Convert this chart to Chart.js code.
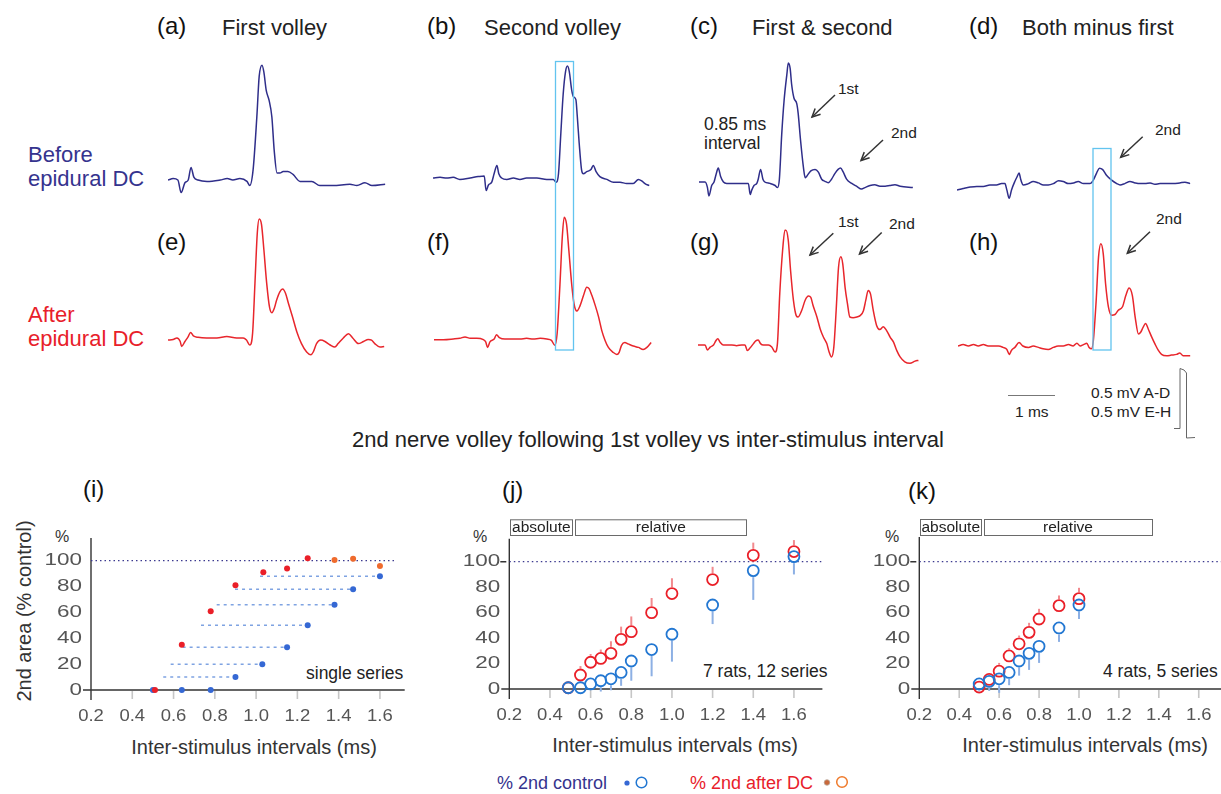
<!DOCTYPE html>
<html>
<head>
<meta charset="utf-8">
<title>2nd nerve volley vs inter-stimulus interval</title>
<script src="https://cdn.jsdelivr.net/npm/chart.js@4.4.1/dist/chart.umd.min.js"></script>
<style>
  body { margin: 0; width: 1221px; height: 794px; overflow: hidden; position: relative; background: #fff;
         font-family: "Liberation Sans", Arial, Helvetica, sans-serif; }
  canvas { position: absolute; }
  .t { position: absolute; line-height: 1; white-space: nowrap; transform: translateY(-50%); color: #222; }
  .lt { font-size: 24px; color: #111; }
  .ttl { font-size: 22px; }
  .ann { font-size: 17.5px; }
  .cal { font-size: 15.5px; }
  .ax { font-size: 20px; color: #333; transform: translate(-50%, -50%); }
  .blue { color: #35338e; }
  .red { color: #e8202a; }
  svg { position: absolute; left: 0; top: 0; }
</style>
</head>
<body>

<!-- panel headings -->
<div class="t lt" style="left:157px;top:26px">(a)</div>
<div class="t ttl" style="left:222px;top:28px">First volley</div>
<div class="t lt" style="left:427px;top:26px">(b)</div>
<div class="t ttl" style="left:484px;top:28px">Second volley</div>
<div class="t lt" style="left:690px;top:26px">(c)</div>
<div class="t ttl" style="left:752px;top:28px">First &amp; second</div>
<div class="t lt" style="left:969px;top:26px">(d)</div>
<div class="t ttl" style="left:1022px;top:28px">Both minus first</div>

<div class="t lt" style="left:157px;top:242px">(e)</div>
<div class="t lt" style="left:427px;top:242px">(f)</div>
<div class="t lt" style="left:690px;top:242px">(g)</div>
<div class="t lt" style="left:969px;top:242px">(h)</div>

<div class="t ttl blue" style="left:28px;top:155px">Before</div>
<div class="t ttl blue" style="left:28px;top:179px">epidural DC</div>
<div class="t ttl red" style="left:28px;top:315px">After</div>
<div class="t ttl red" style="left:28px;top:339px">epidural DC</div>

<!-- trace annotations -->
<div class="t ann" style="left:704px;top:125px">0.85 ms</div>
<div class="t ann" style="left:704px;top:144px">interval</div>
<div class="t cal" style="left:838px;top:89px">1st</div>
<div class="t cal" style="left:891px;top:133px">2nd</div>
<div class="t cal" style="left:1155px;top:130px">2nd</div>
<div class="t cal" style="left:838px;top:222px">1st</div>
<div class="t cal" style="left:889px;top:224px">2nd</div>
<div class="t cal" style="left:1156px;top:219px">2nd</div>

<div class="t cal" style="left:1015px;top:412px">1 ms</div>
<div class="t cal" style="left:1091px;top:393px">0.5 mV A-D</div>
<div class="t cal" style="left:1091px;top:412px">0.5 mV E-H</div>

<div class="t ttl" style="left:352px;top:440px">2nd nerve volley following 1st volley vs inter-stimulus interval</div>

<!-- lower panels -->
<div class="t lt" style="left:83px;top:489px">(i)</div>
<div class="t lt" style="left:502px;top:490px">(j)</div>
<div class="t lt" style="left:908px;top:491px">(k)</div>
<div class="t" style="left:55px;top:537px;font-size:16px;color:#333">%</div>
<div class="t" style="left:473px;top:537px;font-size:16px;color:#333">%</div>
<div class="t" style="left:885px;top:537px;font-size:16px;color:#333">%</div>
<div class="t ann" style="left:306px;top:674px">single series</div>
<div class="t ann" style="left:703px;top:672px">7 rats, 12 series</div>
<div class="t ann" style="left:1103px;top:672px">4 rats, 5 series</div>
<div class="t ax" style="left:254px;top:747px">Inter-stimulus intervals (ms)</div>
<div class="t ax" style="left:675px;top:745px">Inter-stimulus intervals (ms)</div>
<div class="t ax" style="left:1085px;top:745px">Inter-stimulus intervals (ms)</div>
<div class="t ax" style="left:24px;top:611px;transform:translate(-50%,-50%) rotate(-90deg)">2nd area (% control)</div>

<div class="t blue" style="left:497px;top:783px;font-size:18px">% 2nd control</div>
<div class="t red" style="left:690px;top:783px;font-size:18px">% 2nd after DC</div>

<script>
// ============================================================
// SWEEPS: [time (ms), amplitude (mV)] from each sweep start
// ============================================================
const traceA = [[0,0],[0.11,0.01],[0.21,0],[0.28,-0.09],[0.36,-0.02],[0.43,0],[0.49,0.09],[0.55,0.02],[0.64,0],[0.83,-0.01],
  [1.11,0],[1.26,0.01],[1.38,0],[1.53,0.01],[1.68,-0.01],[1.74,-0.04],[1.81,0.07],[1.89,0.45],[1.94,0.74],[2.0,0.82],
  [2.04,0.77],[2.09,0.64],[2.15,0.57],[2.21,0.45],[2.26,0.21],[2.32,0.05],[2.38,0.05],[2.45,0.06],[2.55,0.06],[2.66,0.04],
  [2.81,-0.01],[3.06,-0.01],[3.23,-0.04],[3.51,-0.04],[3.87,-0.03],[4.02,-0.04],[4.19,-0.02],[4.34,-0.04],[4.62,-0.03]];

const traceB = [[0,0],[0.15,0.005],[0.29,0],[0.43,0.005],[0.57,-0.01],[0.79,0],[0.96,0.01],[1.09,0.015],[1.13,-0.09],
  [1.18,-0.05],[1.25,-0.03],[1.30,0.03],[1.36,0.09],[1.40,0.03],[1.46,0],[1.57,-0.01],[1.71,0],[1.85,-0.01],[1.99,0],
  [2.21,0],[2.42,-0.01],[2.56,-0.01],[2.62,-0.03],[2.67,0.03],[2.72,0.32],[2.77,0.60],[2.82,0.76],[2.86,0.80],[2.90,0.76],
  [2.95,0.63],[2.99,0.58],[3.04,0.56],[3.07,0.44],[3.11,0.25],[3.16,0.06],[3.20,0.03],[3.27,0.045],[3.36,0.06],[3.41,0.09],
  [3.47,0.045],[3.55,0.01],[3.70,-0.01],[3.84,-0.03],[3.98,-0.03],[4.12,-0.04],[4.26,-0.04],[4.37,-0.01],[4.44,-0.02],
  [4.51,-0.04],[4.60,-0.055]];

const traceC = [[0,0],[0.13,0],[0.18,-0.04],[0.21,-0.10],[0.27,-0.025],[0.32,0],[0.36,0.05],[0.41,0.10],[0.46,0.04],
  [0.52,0],[0.59,-0.01],[0.73,-0.01],[0.87,-0.01],[1.01,-0.01],[1.05,-0.01],[1.09,-0.09],[1.12,-0.06],[1.17,-0.025],
  [1.23,-0.01],[1.26,0.02],[1.31,0.09],[1.36,0.02],[1.40,0],[1.51,-0.01],[1.62,-0.025],[1.67,-0.04],[1.71,0.02],
  [1.76,0.34],[1.81,0.58],[1.87,0.77],[1.90,0.85],[1.94,0.81],[1.97,0.70],[2.02,0.60],[2.08,0.56],[2.11,0.49],[2.16,0.30],
  [2.22,0.11],[2.26,0.03],[2.29,0.04],[2.38,0.08],[2.47,0.09],[2.54,0.07],[2.61,0.02],[2.68,0.005],[2.75,-0.005],
  [2.82,0.02],[2.89,0.06],[2.96,0.09],[3.01,0.10],[3.07,0.07],[3.14,0.02],[3.25,-0.01],[3.35,-0.03],[3.46,-0.05],
  [3.53,-0.04],[3.64,-0.025],[3.74,-0.02],[3.85,-0.03],[3.96,-0.03],[4.06,-0.025],[4.17,-0.02],[4.28,-0.03],[4.55,-0.04]];

const traceD = [[0,-0.035],[0.13,-0.025],[0.28,-0.015],[0.42,-0.01],[0.56,-0.01],[0.70,0],[0.84,0],[0.95,0.01],[1.02,0.01],
  [1.06,-0.035],[1.11,-0.095],[1.16,-0.035],[1.23,0.025],[1.28,0.06],[1.32,0.085],[1.36,0.035],[1.41,0],[1.52,0.01],
  [1.62,0.025],[1.73,0.015],[1.84,0],[1.94,0],[2.05,0.01],[2.16,0.03],[2.26,0.025],[2.37,0.01],[2.48,0.015],[2.58,0.025],
  [2.69,0.01],[2.83,0.01],[2.90,0.035],[2.97,0.085],[3.03,0.12],[3.10,0.11],[3.18,0.07],[3.29,0.035],[3.40,0.01],[3.47,0],
  [3.57,0.01],[3.68,0.025],[3.79,0.015],[3.89,0.01],[4.0,0.01],[4.11,0.015],[4.21,0.005],[4.32,0.01],[4.46,0.01],
  [4.60,0.01],[4.74,0.015],[4.85,0.02],[4.96,0.01]];

const traceE = [[0,-0.015],[0.11,-0.01],[0.19,0],[0.26,-0.025],[0.29,-0.06],[0.36,-0.025],[0.43,0.01],[0.48,0.04],
  [0.54,0.015],[0.64,0.005],[0.82,0],[1.04,0],[1.25,0.01],[1.46,0],[1.60,0],[1.67,-0.015],[1.74,-0.05],[1.80,0.035],
  [1.85,0.39],[1.90,0.75],[1.94,0.85],[1.99,0.81],[2.04,0.63],[2.10,0.39],[2.16,0.22],[2.21,0.18],[2.26,0.21],[2.31,0.27],
  [2.38,0.33],[2.44,0.35],[2.50,0.32],[2.56,0.25],[2.65,0.15],[2.74,0.045],[2.84,-0.04],[2.95,-0.10],[3.04,-0.12],
  [3.09,-0.10],[3.16,-0.04],[3.25,-0.015],[3.34,-0.025],[3.45,-0.05],[3.55,-0.065],[3.62,-0.04],[3.73,0],[3.84,0.03],
  [3.93,0],[4.05,-0.04],[4.16,-0.025],[4.26,-0.01],[4.33,-0.015],[4.40,-0.04],[4.51,-0.065],[4.60,-0.06]];

const traceF = [[0,-0.005],[0.20,-0.005],[0.41,0],[0.55,0.005],[0.66,0.015],[0.77,0.005],[0.91,0.005],[1.05,-0.005],
  [1.10,-0.02],[1.14,-0.06],[1.19,-0.02],[1.28,0],[1.33,0.03],[1.39,0.01],[1.51,0],[1.69,0],[1.83,0],[1.97,0.005],
  [2.11,0],[2.26,0.005],[2.40,0],[2.50,-0.01],[2.57,-0.045],[2.62,0.04],[2.68,0.39],[2.73,0.73],[2.77,0.87],[2.82,0.82],
  [2.87,0.63],[2.93,0.39],[2.98,0.25],[3.04,0.20],[3.11,0.24],[3.18,0.31],[3.25,0.37],[3.30,0.36],[3.36,0.31],[3.43,0.24],
  [3.50,0.16],[3.57,0.06],[3.64,-0.01],[3.71,-0.06],[3.81,-0.095],[3.89,-0.11],[3.94,-0.095],[3.99,-0.045],[4.06,-0.025],
  [4.13,-0.035],[4.24,-0.05],[4.35,-0.06],[4.45,-0.075],[4.53,-0.06],[4.62,-0.025]];

const traceG = [[0,0],[0.15,0],[0.20,-0.035],[0.26,-0.015],[0.33,0],[0.38,0.03],[0.42,0.045],[0.47,0.02],[0.54,0],
  [0.64,0],[0.72,0],[0.82,-0.005],[0.93,0],[1.0,0],[1.05,-0.04],[1.11,-0.02],[1.18,0.01],[1.23,0.03],[1.28,0.035],
  [1.33,0.01],[1.39,0],[1.50,0],[1.57,-0.015],[1.64,-0.05],[1.69,0.01],[1.74,0.37],[1.80,0.675],[1.85,0.82],[1.87,0.82],
  [1.92,0.75],[1.97,0.53],[2.03,0.32],[2.09,0.21],[2.13,0.20],[2.21,0.25],[2.28,0.32],[2.35,0.35],[2.40,0.34],[2.45,0.28],
  [2.53,0.20],[2.60,0.115],[2.67,0.055],[2.74,0.01],[2.79,-0.05],[2.84,-0.085],[2.89,-0.015],[2.94,0.25],[2.99,0.555],
  [3.04,0.63],[3.08,0.58],[3.13,0.41],[3.18,0.295],[3.23,0.20],[3.30,0.195],[3.38,0.20],[3.45,0.21],[3.52,0.245],
  [3.57,0.32],[3.62,0.39],[3.67,0.365],[3.73,0.245],[3.80,0.14],[3.87,0.11],[3.94,0.13],[4.01,0.105],[4.09,0.055],
  [4.16,0.02],[4.23,-0.04],[4.30,-0.085],[4.40,-0.12],[4.51,-0.13],[4.62,-0.115],[4.69,-0.11]];

const traceH = [[0,0],[0.11,0.01],[0.22,0],[0.33,0.01],[0.43,0],[0.54,0.01],[0.64,0],[0.75,0],[0.86,0],[0.96,-0.01],
  [1.04,-0.025],[1.09,-0.06],[1.14,-0.03],[1.21,-0.01],[1.30,0.025],[1.38,0],[1.50,-0.01],[1.60,0],[1.71,-0.01],
  [1.81,-0.02],[1.92,-0.025],[2.03,-0.01],[2.13,0],[2.24,0],[2.35,0.01],[2.45,0],[2.53,0.02],[2.60,0],[2.67,0.01],
  [2.74,0.02],[2.79,-0.01],[2.84,-0.02],[2.88,0.04],[2.94,0.325],[2.99,0.635],[3.04,0.73],[3.09,0.66],[3.14,0.445],
  [3.20,0.28],[3.27,0.22],[3.34,0.225],[3.41,0.255],[3.50,0.28],[3.57,0.36],[3.64,0.415],[3.71,0.36],[3.77,0.205],
  [3.84,0.085],[3.89,0.10],[3.94,0.135],[3.99,0.16],[4.05,0.12],[4.12,0.065],[4.19,0.015],[4.26,-0.03],[4.33,-0.06],
  [4.44,-0.07],[4.54,-0.065],[4.65,-0.06],[4.72,-0.05],[4.79,-0.07],[4.94,-0.07]];

// ============================================================
// 2ND VOLLEY AREA (% of control) vs INTER-STIMULUS INTERVAL
// ============================================================
const xTicks = [0.2, 0.4, 0.6, 0.8, 1.0, 1.2, 1.4, 1.6];
const yTicks = [0, 20, 40, 60, 80, 100];
const controlLevel = 100;
const phaseNames = ['absolute', 'relative'];
const phaseStart = [0.205, 0.525];
const phaseEnd = [0.51, 1.365];

// (i) single series
const iCtrlIsi = [0.50, 0.64, 0.78, 0.90, 1.03, 1.15, 1.25, 1.38, 1.47, 1.60];
const iCtrl = [0, 0, 0, 10, 20, 33, 50, 66, 78, 88];
const iShiftFrom = [null, null, null, 0.55, 0.586, 0.644, 0.733, 0.809, 0.898, 1.019];
const iDCIsi = [0.51, 0.64, 0.78, 0.90, 1.035, 1.15, 1.25];
const iDC = [0, 35, 61, 81, 91, 94, 102];
const iDCLateIsi = [1.38, 1.47, 1.60];
const iDCLate = [100.5, 101.5, 96];

// (j) 7 rats, 12 series: means, lower SD end (control), upper SD end (after DC)
const jIsi = [0.49, 0.55, 0.6, 0.65, 0.7, 0.75, 0.8, 0.9, 1.0, 1.2, 1.4, 1.6];
const jCtrl = [1, 1, 4, 6.5, 8, 13, 22, 31, 43, 66, 93, 104];
const jCtrlLow = [null, null, -1, -2, -1, 2.5, 6.5, 10, 21.5, 51, 70, 90];
const jDC = [1, 11, 21, 24, 28, 39, 45, 60, 75, 86, 105, 108];
const jDCHigh = [null, 18, 27.5, 31, 37.5, 49, 57, 71.5, 87, 96, 115, 117];

// (k) 4 rats, 5 series
const kIsi = [0.5, 0.55, 0.6, 0.65, 0.7, 0.75, 0.8, 0.9, 1.0];
const kCtrl = [4, 6, 8, 13, 22, 28, 33.5, 48, 66];
const kCtrlLow = [-2, -1.5, -3, 3, 10.5, 15, 20.5, 37, 55];
const kDC = [1.5, 7.5, 14, 26, 35.5, 44.5, 55, 65.5, 71];
const kDCHigh = [null, 12, 20.5, 32, 42, 52, 63, 73.5, 79.5];

const BLUE_TRACE = '#2f2e8a';
const RED_TRACE = '#e8262c';
const BLUE_PT = '#3568d4';
const BLUE_RING = '#2277d2';
const RED_PT = '#ea1f28';
const ORANGE_PT = '#ef6b2d';
const FONT = '"Liberation Sans", Arial, sans-serif';

const toXY = (xs, ys) => xs.map((x, i) => ({ x, y: ys[i] }));

// ============================================================
// SWEEP PANELS (1 ms = 47 px, 1 mV = 140 px)
// ============================================================
function drawTrace(pts, left, top, color) {
  const cv = document.createElement('canvas');
  cv.width = 235; cv.height = 168;
  cv.style.left = left + 'px';
  cv.style.top = top + 'px';
  document.body.appendChild(cv);
  new Chart(cv, {
    type: 'line',
    data: {
      datasets: [{
        data: pts.map(p => ({ x: p[0], y: p[1] })),
        borderColor: color,
        borderWidth: 1.5,
        pointRadius: 0,
        cubicInterpolationMode: 'monotone',
        clip: false,
      }],
    },
    options: {
      responsive: false,
      animation: false,
      events: [],
      plugins: { legend: { display: false }, tooltip: { enabled: false } },
      scales: {
        x: { type: 'linear', min: 0, max: 5, display: false },
        y: { min: -0.25, max: 0.95, display: false },
      },
    },
  });
}

drawTrace(traceA, 168, 47, BLUE_TRACE);
drawTrace(traceB, 433, 45, BLUE_TRACE);
drawTrace(traceC, 699, 48.5, BLUE_TRACE);
drawTrace(traceD, 957, 52, BLUE_TRACE);
drawTrace(traceE, 168, 205, RED_TRACE);
drawTrace(traceF, 434, 205.5, RED_TRACE);
drawTrace(traceG, 698, 211.5, RED_TRACE);
drawTrace(traceH, 958, 212.5, RED_TRACE);

// ============================================================
// ISI PANELS
// ============================================================
function stretchText(ctx, txt, x, y, sx, align) {
  ctx.save();
  ctx.translate(x, y);
  ctx.scale(sx, 1);
  ctx.textAlign = align;
  ctx.textBaseline = 'middle';
  ctx.fillText(txt, 0, 0);
  ctx.restore();
}

const isiAxes = {
  id: 'isiAxes',
  beforeDatasetsDraw(chart, args, o) {
    const { ctx, chartArea: a, scales: { x, y } } = chart;
    const x0 = x.getPixelForValue(0.2), y0 = y.getPixelForValue(0);
    ctx.save();
    ctx.strokeStyle = '#c6c6c6';
    ctx.lineWidth = 1.6;
    xTicks.slice(1).forEach(v => {
      const px = x.getPixelForValue(v);
      ctx.beginPath(); ctx.moveTo(px, y0 + 1); ctx.lineTo(px, y0 + 9); ctx.stroke();
    });
    ctx.strokeStyle = '#333';
    ctx.lineWidth = 1.4;
    ctx.beginPath();
    ctx.moveTo(x0, a.top); ctx.lineTo(x0, y0 + 10);
    ctx.moveTo(x0 - 8, y0); ctx.lineTo(a.right, y0);
    if (o.tick100) {
      const p = y.getPixelForValue(controlLevel);
      ctx.moveTo(x0 - 9, p); ctx.lineTo(x0 - 3, p);
    }
    ctx.stroke();

    // one-sided SD bars, starting at the ring edge
    chart.data.datasets.forEach((ds, di) => {
      if (!ds.errEnds || !chart.isDatasetVisible(di)) return;
      ctx.strokeStyle = ds.errColor;
      ctx.lineWidth = 2;
      ds.errEnds.forEach((end, i) => {
        if (end == null) return;
        const px = x.getPixelForValue(ds.data[i].x);
        const py = y.getPixelForValue(ds.data[i].y);
        const pe = y.getPixelForValue(end);
        const r = ds.pointRadius + 1;
        if (Math.abs(pe - py) <= r) return;
        const dir = Math.sign(pe - py);
        ctx.beginPath(); ctx.moveTo(px, py + dir * r); ctx.lineTo(px, pe); ctx.stroke();
      });
    });
    ctx.restore();
  },
  afterDraw(chart, args, o) {
    const { ctx, scales: { x, y } } = chart;
    const x0 = x.getPixelForValue(0.2), y0 = y.getPixelForValue(0);
    ctx.save();
    ctx.fillStyle = '#555';
    ctx.font = '16.5px ' + FONT;
    yTicks.forEach(v => stretchText(ctx, String(v), x0 - 9, y.getPixelForValue(v), 1.36, 'right'));
    xTicks.forEach(v => stretchText(ctx, v.toFixed(1), x.getPixelForValue(v), y0 + 26, 1.12, 'center'));

    if (o.phases) {
      ctx.strokeStyle = '#6a6a6a';
      ctx.lineWidth = 1;
      ctx.fillStyle = '#222';
      ctx.font = '15.5px ' + FONT;
      phaseNames.forEach((name, i) => {
        const l = x.getPixelForValue(phaseStart[i]), r = x.getPixelForValue(phaseEnd[i]);
        ctx.strokeRect(Math.round(l) + 0.5, o.boxTop + 0.5, Math.round(r - l), o.boxH);
        ctx.textAlign = 'center';
        ctx.textBaseline = 'middle';
        ctx.fillText(name, (l + r) / 2, o.boxTop + o.boxH / 2 + 1);
      });
    }
    ctx.restore();
  },
};

function refLine(xFrom, xTo) {
  return {
    type: 'line',
    data: [{ x: xFrom, y: controlLevel }, { x: xTo, y: controlLevel }],
    borderColor: '#3c3a90',
    borderWidth: 1.2,
    borderDash: [1.5, 3],
    pointRadius: 0,
    order: 5,
  };
}

function ringSet(xs, ys, ends, color, errColor) {
  return {
    data: toXY(xs, ys),
    pointRadius: 5.5,
    pointBorderWidth: 1.8,
    pointBorderColor: color,
    pointBackgroundColor: 'rgba(255,255,255,0)',
    errEnds: ends,
    errColor,
    clip: false,
    order: 0,
  };
}

function isiChart(left, width, pad, xMax, yMax, datasets, opts) {
  const cv = document.createElement('canvas');
  cv.width = width; cv.height = 300;
  cv.style.left = left + 'px';
  cv.style.top = '470px';
  document.body.appendChild(cv);
  new Chart(cv, {
    type: 'scatter',
    data: { datasets },
    options: {
      responsive: false,
      animation: false,
      events: [],
      layout: { padding: pad },
      plugins: { legend: { display: false }, tooltip: { enabled: false }, isiAxes: opts },
      scales: {
        x: { type: 'linear', min: 0.2, max: xMax, display: false },
        y: { min: 0, max: yMax, display: false },
      },
    },
    plugins: [isiAxes],
  });
}

// (i) single series: filled dots, dashed shift from DC-equivalent interval
const iLinks = iShiftFrom.map((from, i) => from == null ? null : {
  type: 'line',
  data: [{ x: from, y: iCtrl[i] }, { x: iCtrlIsi[i], y: iCtrl[i] }],
  borderColor: '#7fa3e2',
  borderWidth: 1.5,
  borderDash: [3, 4],
  pointRadius: 0,
  order: 4,
}).filter(Boolean);

isiChart(0, 415, { left: 91, right: 10.3, top: 68.1, bottom: 80 }, 1.72, 117.5, [
  { data: toXY(iCtrlIsi, iCtrl), pointRadius: 3, pointBackgroundColor: BLUE_PT, pointBorderWidth: 0, clip: false, order: 1 },
  { data: toXY(iDCIsi, iDC), pointRadius: 3, pointBackgroundColor: RED_PT, pointBorderWidth: 0, clip: false, order: 0 },
  { data: toXY(iDCLateIsi, iDCLate), pointRadius: 3, pointBackgroundColor: ORANGE_PT, pointBorderWidth: 0, clip: false, order: 0 },
  ...iLinks,
  refLine(0.2, 1.68),
], { tick100: false, phases: false });

// (j) 7 rats, 12 series
isiChart(420, 410, { left: 89.3, right: 7.6, top: 68.8, bottom: 81 }, 1.74, 118, [
  ringSet(jIsi, jCtrl, jCtrlLow, BLUE_RING, '#8db0e4'),
  ringSet(jIsi, jDC, jDCHigh, RED_PT, '#f28a8e'),
  refLine(0.2, 1.74),
], { tick100: true, phases: true, boxTop: 49.3, boxH: 15.7 });

// (k) 4 rats, 5 series
isiChart(830, 400, { left: 89.3, right: 2.3, top: 66.9, bottom: 81 }, 1.72, 119.5, [
  ringSet(kIsi, kCtrl, kCtrlLow, BLUE_RING, '#8db0e4'),
  ringSet(kIsi, kDC, kDCHigh, RED_PT, '#f28a8e'),
  refLine(0.2, 1.72),
], { tick100: true, phases: true, boxTop: 49, boxH: 16 });

// ============================================================
// OVERLAY: windows, arrows, scale bars, key markers
// ============================================================
const arrows = [
  [835, 95, 812, 117], [883, 140, 861, 160.5], [1142.7, 136.7, 1120.7, 157.3],
  [833.3, 233.3, 810, 255], [881.7, 232.5, 859.5, 254], [1150, 231.7, 1127.3, 253.3],
];
let svg = '<svg width="1221" height="794" xmlns="http://www.w3.org/2000/svg">';
svg += '<rect x="555.5" y="61.5" width="18" height="288.5" fill="none" stroke="#62c4ef" stroke-width="1.3"/>';
svg += '<rect x="1093" y="148.5" width="18" height="201.5" fill="none" stroke="#62c4ef" stroke-width="1.3"/>';
arrows.forEach(([x1, y1, x2, y2]) => {
  const ang = Math.atan2(y2 - y1, x2 - x1), L = 9;
  const a1 = ang + Math.PI - 0.45, a2 = ang + Math.PI + 0.45;
  svg += `<line x1="${x1}" y1="${y1}" x2="${x2}" y2="${y2}" stroke="#333" stroke-width="1.5"/>`;
  svg += `<polyline points="${x2 + L * Math.cos(a1)},${y2 + L * Math.sin(a1)} ${x2},${y2} ${x2 + L * Math.cos(a2)},${y2 + L * Math.sin(a2)}" fill="none" stroke="#333" stroke-width="1.5"/>`;
});
svg += '<line x1="1008" y1="395.5" x2="1055" y2="395.5" stroke="#777" stroke-width="1"/>';
svg += '<polyline points="1174,428.5 1180,428.5 1180,368.5 1184,370 1186.5,373 1186.5,438 1195,437.5" fill="none" stroke="#666" stroke-width="1"/>';
svg += `<circle cx="627" cy="783" r="2.6" fill="${BLUE_PT}"/>`;
svg += `<circle cx="641.5" cy="782.5" r="5.3" fill="none" stroke="${BLUE_RING}" stroke-width="1.5"/>`;
svg += '<circle cx="827" cy="782.5" r="2.8" fill="#c8683a" stroke="#b9a89c" stroke-width="0.8"/>';
svg += '<circle cx="842" cy="782" r="5.3" fill="none" stroke="#ef7a2b" stroke-width="1.5"/>';
svg += '</svg>';
document.body.insertAdjacentHTML('beforeend', svg);
</script>
</body>
</html>
